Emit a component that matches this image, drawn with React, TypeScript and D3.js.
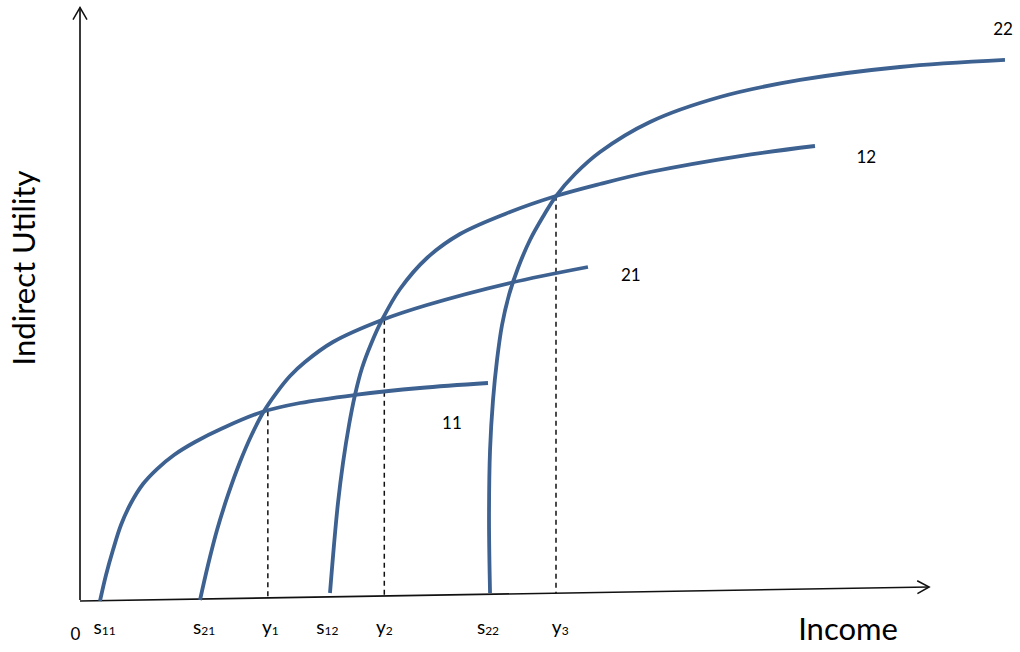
import React, { useEffect } from "react";
import * as d3 from "d3";

// ---- data (income, indirect utility) ----
const curve11: [number, number][] = [
  [2.35, -0.17], [3.06, 4.24], [3.88, 8.47], [4.82, 12.71], [6.0, 16.44], [7.41, 19.66],
  [9.06, 22.2], [11.06, 24.58], [13.53, 26.78], [16.82, 29.15], [21.41, 31.86], [25.88, 33.39],
  [32.35, 34.75], [40.0, 35.93], [48.0, 36.78],
];
const curve21: [number, number][] = [
  [14.12, 0], [15.06, 5.93], [16.12, 11.86], [17.41, 17.8], [18.82, 23.39], [20.24, 28.14],
  [21.65, 32.03], [23.18, 35.25], [24.71, 37.97], [26.47, 40.34], [29.76, 43.73], [35.53, 47.46],
  [40.82, 50.0], [50.59, 53.73], [59.76, 56.44],
];
const curve12: [number, number][] = [
  [29.41, 1.19], [29.88, 9.32], [30.35, 16.44], [30.94, 23.22], [31.65, 29.66], [32.35, 34.75],
  [33.18, 39.32], [34.24, 43.39], [35.53, 47.46], [37.65, 52.71], [40.82, 57.97], [44.71, 62.03],
  [50.59, 65.76], [56.0, 68.47], [61.18, 70.51], [67.06, 72.54], [77.65, 75.25], [86.47, 76.95],
];
const curve22: [number, number][] = [
  [48.24, 1.19], [48.12, 13.56], [48.24, 25.42], [48.59, 33.9], [49.06, 40.68], [49.65, 46.61],
  [50.47, 51.69], [51.53, 56.27], [52.94, 61.02], [54.59, 65.25], [56.0, 68.47], [58.24, 72.2],
  [61.18, 75.93], [67.06, 81.02], [75.29, 85.25], [84.71, 88.14], [96.47, 90.34], [108.82, 91.53],
];
const curves = [curve11, curve21, curve12, curve22];

const curveNames = ["11", "21", "12", "22"];
const curveLabelPos: [number, number][] = [[43.76, 29.0], [64.8, 54.0], [92.5, 74.0], [108.6, 95.76]];

// dashed income levels y1,y2,y3 : [income, utility at crossing]
const crossings: [number, number][] = [[22.1, 32.0], [35.8, 47.5], [56.0, 68.5]];

// axis labels under the income axis
const tickMain = ["s", "s", "y", "s", "y", "s", "y"];
const tickSub = ["11", "21", "1", "12", "2", "22", "3"];
const tickX = [2.9, 14.6, 22.4, 29.1, 35.8, 48.0, 56.5];

// the income axis is drawn slightly tilted
const xAxisStart: [number, number] = [0, -0.17];
const xAxisEnd: [number, number] = [99.9, 2.2];
const yAxisTop = 100.42;

const BLUE = "#3d6190";
const FONT = "Lato, 'Open Sans', sans-serif";

export default function App() {
  useEffect(() => {
    document.body.style.margin = "0";
  }, []);

  const W = 1020, H = 652;
  const x = d3.scaleLinear().domain([0, 100]).range([80, 930]);
  const y = d3.scaleLinear().domain([0, 100]).range([600, 10]);

  const line = d3
    .line<[number, number]>()
    .x((d) => x(d[0]))
    .y((d) => y(d[1]))
    .curve(d3.curveCatmullRom.alpha(0.5));

  const axisAt = (v: number) =>
    xAxisStart[1] + ((v - xAxisStart[0]) * (xAxisEnd[1] - xAxisStart[1])) / (xAxisEnd[0] - xAxisStart[0]);

  const x0 = x(xAxisStart[0]), y0 = y(xAxisStart[1]);
  const x1 = x(xAxisEnd[0]), y1 = y(xAxisEnd[1]);
  const ang = Math.atan2(y1 - y0, x1 - x0);
  const aL = 13.5, aW = 0.5;
  const arrowX = `M${x1 - aL * Math.cos(ang - aW)},${y1 - aL * Math.sin(ang - aW)} L${x1},${y1} L${x1 - aL * Math.cos(ang + aW)},${y1 - aL * Math.sin(ang + aW)}`;
  const yt = y(yAxisTop);
  const arrowY = `M${x(0) - 7},${yt + 12} L${x(0)},${yt} L${x(0) + 7},${yt + 12}`;

  return (
    <svg width={W} height={H} style={{ display: "block", background: "#fff" }} fontFamily={FONT}>
      {/* axes */}
      <line x1={x(0)} y1={y(0)} x2={x(0)} y2={yt} stroke="#3a3a3a" strokeWidth={2} />
      <path d={arrowY} fill="none" stroke="#111" strokeWidth={1.5} />
      <line x1={x0} y1={y0} x2={x1} y2={y1} stroke="#111" strokeWidth={1.6} />
      <path d={arrowX} fill="none" stroke="#111" strokeWidth={1.5} />

      {/* dashed verticals */}
      {crossings.map((c, i) => (
        <line
          key={i}
          x1={x(c[0])}
          x2={x(c[0])}
          y1={y(c[1])}
          y2={y(axisAt(c[0]))}
          stroke="#111"
          strokeWidth={1.5}
          strokeDasharray="5,4"
        />
      ))}

      {/* curves */}
      {curves.map((c, i) => (
        <path key={i} d={line(c) || ""} fill="none" stroke={BLUE} strokeWidth={3.8} strokeLinecap="butt" />
      ))}

      {/* curve labels */}
      {curveNames.map((n, i) => (
        <text key={n} x={x(curveLabelPos[i][0])} y={y(curveLabelPos[i][1])} fontSize={17} textAnchor="middle" fill="#000">
          {n}
        </text>
      ))}

      {/* tick labels */}
      <text x={75.5} y={640} fontSize={17} textAnchor="middle" fill="#000">0</text>
      {tickMain.map((m, i) => (
        <text key={i} x={x(tickX[i])} y={634} fontSize={19} textAnchor="middle" fill="#000">
          {m}
          <tspan fontSize={12} dy={1}>{tickSub[i]}</tspan>
        </text>
      ))}

      {/* axis titles */}
      <text x={848} y={640} fontSize={31} textAnchor="middle" fill="#000">Income</text>
      <text transform={`translate(35,268) rotate(-90)`} fontSize={31} textAnchor="middle" fill="#000">
        Indirect Utility
      </text>
    </svg>
  );
}
